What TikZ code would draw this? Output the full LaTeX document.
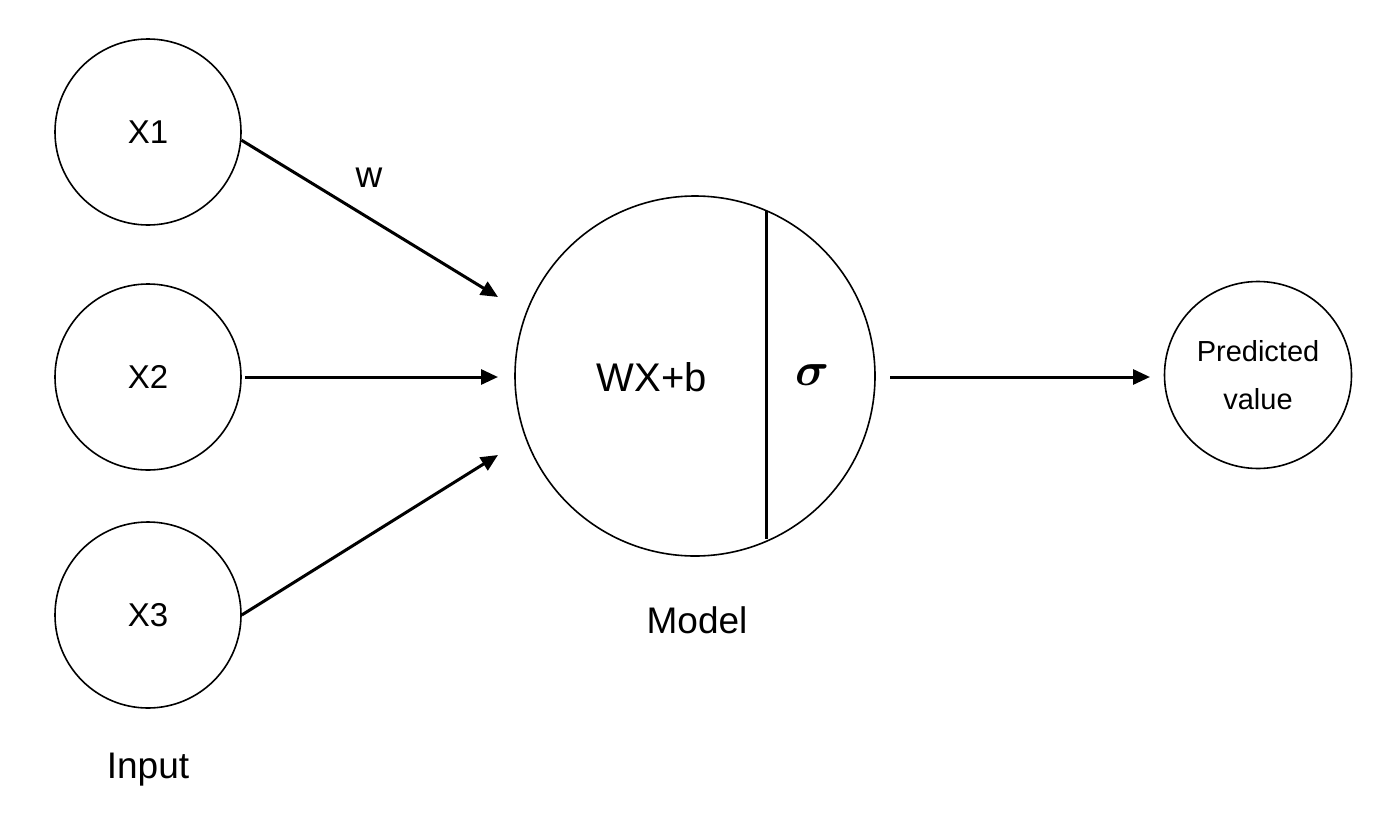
\documentclass[tikz,border=0pt]{standalone}
\usepackage{amsmath,bm}
\usepackage{graphicx}
\usepackage{fontspec}
\setmainfont{Liberation Sans}
\usetikzlibrary{arrows.meta}
\begin{document}
\begin{tikzpicture}[x=1pt,y=-1pt,
  inp/.style={draw,circle,line width=1.6pt,minimum size=186pt,inner sep=0pt,font=\fontsize{33}{38}\selectfont},
  conn/.style={line width=3pt,-{Triangle[length=17pt,width=15pt]}},
  lbl/.style={font=\fontsize{37}{44}\selectfont}]
\useasboundingbox (0,0) rectangle (1384,830);
\node[inp] (x1) at (148,132) {X1};
\node[inp] (x2) at (148,377) {X2};
\node[inp] (x3) at (148,615) {X3};
\node[draw,circle,line width=1.6pt,minimum size=360pt,inner sep=0pt] (m) at (695,376) {};
\node[draw,circle,line width=1.6pt,minimum size=187pt,inner sep=0pt,align=center,font=\fontsize{29}{48}\selectfont] (p) at (1258,375) {Predicted\\value};
\coordinate (vt) at (766,211);
\coordinate (vb) at (766,539);
\draw[line width=3pt] (vt) -- (vb);
\node[font=\fontsize{40}{50}\selectfont] (wx) at (652,377) {WX+b};
\node (sig) at (812,375) {\scalebox{4.7}{$\bm{\sigma}$}};
\node[lbl] (w) at (369,178) {w};
\node[lbl] (model) at (697,620) {Model};
\node[lbl] (input) at (148,770) {Input};
\coordinate (a1) at (498,297);
\coordinate (a2) at (498,377);
\coordinate (a3) at (498,455);
\coordinate (a4) at (890,377);
\coordinate (a5) at (1150,377);
\draw[conn] (x1.-5) -- (a1);
\draw[conn] (x2.east) ++(3,0) -- (a2);
\draw[conn] (x3.east) -- (a3);
\draw[conn] (a4) -- (a5);
\end{tikzpicture}
\end{document}
